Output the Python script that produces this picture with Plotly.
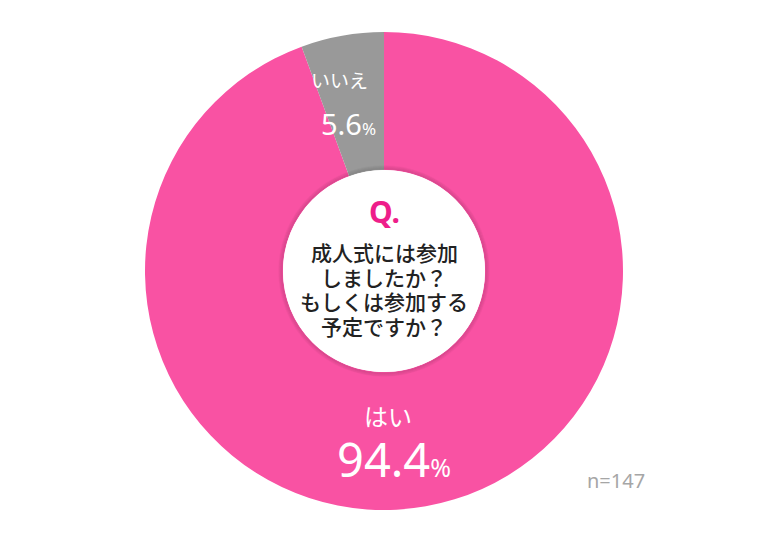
import plotly.graph_objects as go

labels = ["いいえ", "はい"]
values = [5.6, 94.4]
colors = ["#999999", "#F952A3"]
question_lines = ["成人式には参加", "しましたか？", "もしくは参加する", "予定ですか？"]
sample_note = "n=147"

W, H = 768, 541
cx, cy, R, r_in = 384, 271, 239, 101

def px(x):
    return x / W

def py(y):
    return 1 - y / H

# clockwise from 12 o'clock: はい first, いいえ ends just left of 12 o'clock
fig = go.Figure(go.Pie(
    labels=labels[::-1], values=values[::-1], sort=False, direction="clockwise",
    rotation=0, hole=r_in / R, textinfo="none", hoverinfo="label+percent",
    marker=dict(colors=colors[::-1], line=dict(width=0)),
    domain=dict(x=[px(cx - R), px(cx + R)], y=[py(cy + R), py(cy - R)]),
    showlegend=False,
))

# soft shadow ring around the hole
shapes = []
for k, a in [(4, 0.03), (3, 0.05), (2, 0.07), (1, 0.09)]:
    rr = r_in + k
    shapes.append(dict(type="circle", xref="paper", yref="paper",
                       x0=px(cx - rr), x1=px(cx + rr), y0=py(cy + rr), y1=py(cy - rr),
                       line=dict(color=f"rgba(0,0,0,{a})", width=1.5), layer="above"))
shapes.append(dict(type="circle", xref="paper", yref="paper",
                   x0=px(cx - r_in), x1=px(cx + r_in), y0=py(cy + r_in), y1=py(cy - r_in),
                   line=dict(width=0), fillcolor="white", layer="above"))

num_font = "Noto Sans, Lato, sans-serif"
jp_font = "Noto Sans CJK JP, sans-serif"

def pct_text(v, big, small):
    return (f"<span style='font-size:{big}px'>{v}</span>"
            f"<span style='font-size:{small}px'>%</span>")

annotations = [
    dict(x=px(339), y=py(80), text=labels[0], font=dict(family=jp_font, size=19, color="white")),
    dict(x=px(348), y=py(123), text=pct_text(values[0], 29, 17), font=dict(family=num_font, color="white")),
    dict(x=px(388), y=py(415), text=labels[1], font=dict(family=jp_font, size=24, color="white")),
    dict(x=px(394), y=py(459), text=pct_text(values[1], 47, 25), font=dict(family=num_font, color="white")),
    dict(x=px(384), y=py(211), text="<b>Q.</b>", font=dict(family=num_font, size=30, color="#EE1E8A")),
    dict(x=px(616), y=py(480), text=sample_note, font=dict(family=num_font, size=20, color="#A6A6A6")),
]
for i, line in enumerate(question_lines):
    annotations.append(dict(x=px(384), y=py(252 + i * 24.5), text=line,
                            font=dict(family=jp_font, size=21, color="#222222", weight=500)))
for a in annotations:
    a.update(xref="paper", yref="paper", showarrow=False, xanchor="center", yanchor="middle")

fig.update_layout(width=W, height=H, margin=dict(l=0, r=0, t=0, b=0),
                  paper_bgcolor="white", plot_bgcolor="white",
                  shapes=shapes, annotations=annotations)
fig.write_html("out.html", config={"displayModeBar": False},
               post_script="document.body.style.margin='0';")
